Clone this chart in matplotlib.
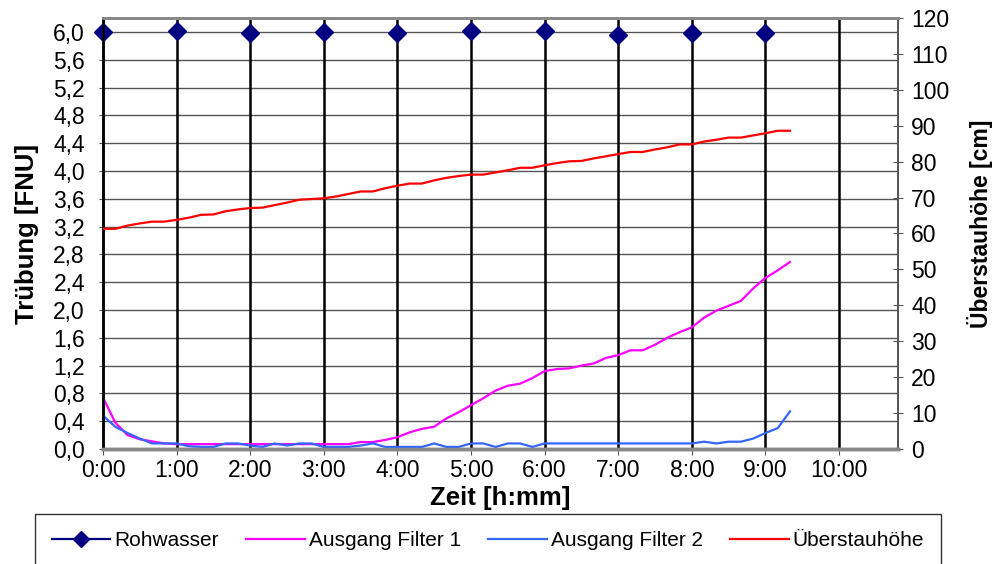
import numpy as np
import matplotlib.pyplot as plt
from matplotlib.lines import Line2D

plt.rcParams['font.family'] = ['Liberation Sans', 'DejaVu Sans']

# Zeit in Minuten (alle 10 min)
zeit_min = list(range(0, 570, 10))

rohwasser_h = [0, 1, 2, 3, 4, 5, 6, 7, 8, 9]
rohwasser = [6.00, 6.02, 5.99, 6.00, 5.99, 6.02, 6.02, 5.96, 5.99, 5.99]

filter1 = [0.74, 0.38, 0.20, 0.14, 0.11, 0.08, 0.07, 0.07, 0.07, 0.07,
           0.07, 0.07, 0.07, 0.07, 0.07, 0.07, 0.07, 0.07, 0.07, 0.07,
           0.07, 0.10, 0.10, 0.13, 0.17, 0.24, 0.29, 0.32, 0.44, 0.53,
           0.63, 0.73, 0.84, 0.91, 0.94, 1.02, 1.12, 1.15, 1.16, 1.20,
           1.23, 1.31, 1.35, 1.42, 1.42, 1.50, 1.60, 1.68, 1.75, 1.89,
           1.99, 2.06, 2.13, 2.31, 2.46, 2.57, 2.69]

filter2 = [0.48, 0.32, 0.23, 0.15, 0.08, 0.08, 0.08, 0.04, 0.03, 0.03,
           0.08, 0.08, 0.05, 0.03, 0.08, 0.05, 0.08, 0.08, 0.03, 0.03,
           0.03, 0.05, 0.08, 0.03, 0.03, 0.03, 0.03, 0.08, 0.03, 0.03,
           0.08, 0.08, 0.03, 0.08, 0.08, 0.03, 0.08, 0.08, 0.08, 0.08,
           0.08, 0.08, 0.08, 0.08, 0.08, 0.08, 0.08, 0.08, 0.08, 0.105,
           0.08, 0.105, 0.105, 0.15, 0.23, 0.30, 0.54]

ueberstau = [61.3, 61.3, 62.2, 62.8, 63.3, 63.3, 63.8, 64.4, 65.2, 65.3,
             66.2, 66.7, 67.1, 67.2, 67.9, 68.6, 69.4, 69.6, 69.8, 70.3,
             71.0, 71.7, 71.7, 72.6, 73.3, 73.9, 73.9, 74.8, 75.5, 76.0,
             76.4, 76.4, 77.0, 77.6, 78.3, 78.3, 79.0, 79.6, 80.1, 80.2,
             80.9, 81.5, 82.1, 82.7, 82.7, 83.4, 84.0, 84.8, 84.8, 85.6,
             86.1, 86.7, 86.7, 87.3, 87.9, 88.6, 88.6]

stunden = [0, 1, 2, 3, 4, 5, 6, 7, 8, 9, 10]
stunden_labels = ['%d:00' % h for h in stunden]

t = np.array(zeit_min) / 60.0

fig = plt.figure(figsize=(10.01, 5.64), dpi=100)
ax = fig.add_axes([0.1029, 0.2039, 0.7941, 0.7642])
ax2 = ax.twinx()

# Gitter
for y in np.arange(0.4, 6.2, 0.4):
    ax.axhline(y, color='#555555', lw=1.0, zorder=1)
for h in stunden[1:]:
    ax.axvline(h, color='black', lw=1.8, zorder=1)

ax.plot(rohwasser_h, rohwasser, linestyle='none', marker='D', color='#000080',
        markersize=9, zorder=5, clip_on=False)
ax.plot(t, filter1, color='#FF00FF', lw=1.6, zorder=4)
ax.plot(t, filter2, color='#3366FF', lw=1.6, zorder=4)
ax2.plot(t, ueberstau, color='#FF0000', lw=1.6, zorder=4)

ax.set_xlim(0, 10.8)
ax.set_ylim(0, 6.2)
ax2.set_ylim(0, 120)

ax.set_yticks(np.arange(0, 6.01, 0.4))
ax.set_yticklabels([('%.1f' % v).replace('.', ',') for v in np.arange(0, 6.01, 0.4)])
ax2.set_yticks(range(0, 121, 10))
ax.set_xticks(stunden)
ax.set_xticklabels(stunden_labels)

ax.tick_params(axis='y', labelsize=16.5, length=3, color='#555555', pad=10)
ax.tick_params(axis='x', labelsize=16.5, length=4, color='#555555', pad=3)
ax2.tick_params(axis='y', labelsize=16.5, length=7, direction='inout',
                color='#555555', pad=6)

for a in (ax, ax2):
    a.spines['top'].set_color('#888888')
    a.spines['top'].set_linewidth(2)
    a.spines['bottom'].set_color('#888888')
    a.spines['bottom'].set_linewidth(2.5)
    a.spines['right'].set_color('#555555')
    a.spines['right'].set_linewidth(1.2)
    a.spines['left'].set_color('black')
    a.spines['left'].set_linewidth(1.8)

ax.set_xlabel('Zeit [h:mm]', fontsize=18.5, fontweight='bold', labelpad=3)
ax.set_ylabel('Trübung [FNU]', fontsize=18.5, fontweight='bold', labelpad=10)
ax2.set_ylabel('Überstauhöhe [cm]', fontsize=16.5, fontweight='bold', labelpad=14)
ax2.yaxis.set_label_coords(1.087, 0.522)

handles = [
    Line2D([], [], color='#000080', marker='D', markersize=8, lw=1.6),
    Line2D([], [], color='#FF00FF', lw=1.6),
    Line2D([], [], color='#3366FF', lw=1.6),
    Line2D([], [], color='#FF0000', lw=1.6),
]
labels = ['Rohwasser', 'Ausgang Filter 1', 'Ausgang Filter 2', 'Überstauhöhe']
leg = fig.legend(handles, labels, loc='upper left', bbox_to_anchor=(0.035, 0.088, 0.905, 0.0),
                 ncol=4, mode='expand', prop={'size': 15},
                 frameon=True, fancybox=False,
                 edgecolor='black', borderpad=0.8, handlelength=2.8, handletextpad=0.2,
                 borderaxespad=0)
leg.get_frame().set_linewidth(1.0)

fig.savefig('out.png', dpi=100)
